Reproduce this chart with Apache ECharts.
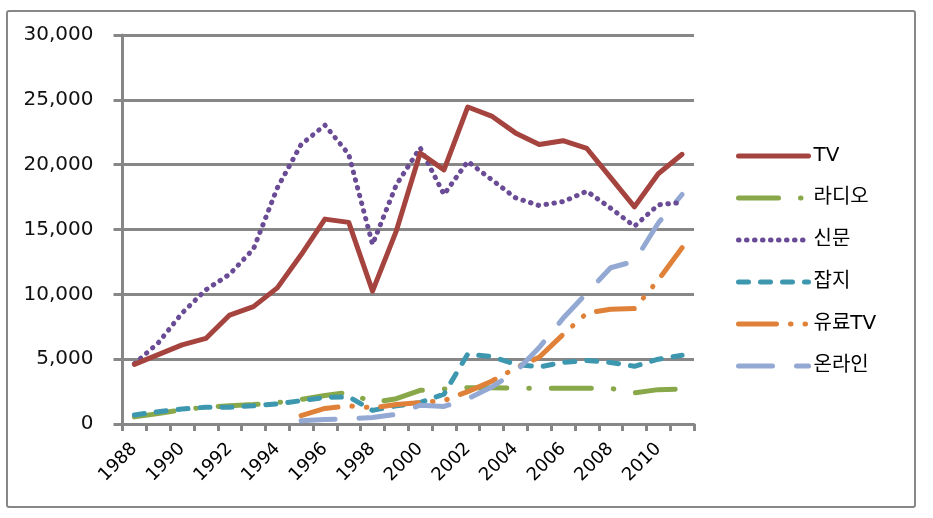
<!DOCTYPE html>
<html>
<head>
<meta charset="utf-8">
<script src="https://cdn.jsdelivr.net/npm/echarts@6/dist/echarts.min.js"></script>
<style>
html,body{margin:0;padding:0;background:#fff;}
#c{width:933px;height:518px;}
</style>
</head>
<body>
<div id="c"></div>
<script>
const years = ['1988','1989','1990','1991','1992','1993','1994','1995','1996','1997','1998','1999',
               '2000','2001','2002','2003','2004','2005','2006','2007','2008','2009','2010','2011'];
const seriesNames = ['TV','라디오','신문','잡지','유료TV','온라인'];
const yTicks = [0, 5000, 10000, 15000, 20000, 25000, 30000];

const tv       = [4600, 5350, 6100, 6600, 8400, 9050, 10500, 13050, 15800, 15550, 10250, 14900,
                  20900, 19600, 24450, 23750, 22450, 21550, 21850, 21250, 19000, 16750, 19300, 20800];
const radio    = [550, 800, 1100, 1300, 1400, 1500, 1650, 1900, 2200, 2450, 1650, 1950,
                  2600, 2700, 2800, 2800, 2750, 2750, 2750, 2750, 2750, 2400, 2650, 2700];
const paper    = [4650, 6250, 8550, 10350, 11550, 13500, 18200, 21550, 23050, 20800, 13850, 18450,
                  21300, 17700, 20250, 18850, 17450, 16850, 17150, 17950, 16650, 15250, 16900, 17100];
const magazine = [700, 950, 1150, 1300, 1300, 1400, 1550, 1800, 2050, 2100, 1050, 1400,
                  1650, 2300, 5400, 5200, 4600, 4400, 4750, 4900, 4750, 4450, 5000, 5300];
const payTV    = [null, null, null, null, null, null, null, 650, 1200, 1400, 1250, 1500,
                  1650, 1800, 2500, 3300, 4300, 5150, 6900, 8550, 8850, 8900, 11100, 13600];
const online   = [null, null, null, null, null, null, null, 250, 350, 400, 500, 750,
                  1450, 1350, 1950, 2850, 4000, 5900, 8150, 10100, 12050, 12550, 15500, 17700];

const colors = ['#A5433E', '#88A84A', '#6A4B96', '#3C97AF', '#DF8138', '#93A9D3'];
const dashes = ['solid', [40, 22, 0.5, 22], [0.5, 7.5], [10, 12], [38, 14, 0.5, 14, 0.5, 14], [34, 24]];
const values = [tv, radio, paper, magazine, payTV, online];

const gray = '#878787';
const fontLat = 'DejaVu Sans, Noto Sans CJK KR, sans-serif';

const chart = echarts.init(document.getElementById('c'), null, {renderer: 'canvas'});
chart.setOption({
  animation: false,
  backgroundColor: '#ffffff',
  color: colors,
  graphic: [{
    type: 'rect',
    shape: {x: 7, y: 11, width: 908, height: 496, r: 2},
    style: {fill: 'none', stroke: gray, lineWidth: 2},
    silent: true, z: -10
  }],
  grid: {left: 122.5, right: 239, top: 35, bottom: 94, containLabel: false, outerBoundsMode: 'none'},
  legend: {
    orient: 'vertical',
    left: 736,
    top: 146,
    padding: 0,
    itemWidth: 70,
    itemHeight: 20,
    itemGap: 22,
    data: seriesNames,
    itemStyle: {opacity: 0},
    lineStyle: {width: 5, cap: 'round'},
    textStyle: {fontSize: 20, lineHeight: 20, color: '#000', fontFamily: fontLat}
  },
  xAxis: {
    type: 'category',
    data: years,
    boundaryGap: true,
    axisLine: {show: true, lineStyle: {color: gray, width: 3}},
    axisTick: {show: true, alignWithLabel: false, interval: 0, length: 7, lineStyle: {color: gray, width: 3}},
    axisLabel: {interval: 1, rotate: 45, margin: 22, fontSize: 18, color: '#000', fontFamily: fontLat},
    splitLine: {show: false}
  },
  yAxis: {
    type: 'value',
    min: yTicks[0],
    max: yTicks[yTicks.length - 1],
    interval: 5000,
    axisLine: {show: true, lineStyle: {color: gray, width: 3}},
    axisTick: {show: true, length: 9, lineStyle: {color: gray, width: 3}},
    axisLabel: {
      margin: 29, fontSize: 20, color: '#111', fontFamily: fontLat,
      formatter: v => v.toLocaleString('en-US')
    },
    splitLine: {show: true, lineStyle: {color: gray, width: 3}}
  },
  series: seriesNames.map((name, i) => ({
    name: name,
    type: 'line',
    data: values[i],
    symbol: 'none',
    connectNulls: false,
    lineStyle: {width: 5, color: colors[i], type: dashes[i], cap: 'round', join: 'round'},
    itemStyle: {color: colors[i]},
    z: [6, 2, 5, 3, 4, 4][i]
  }))
});
</script>
</body>
</html>
